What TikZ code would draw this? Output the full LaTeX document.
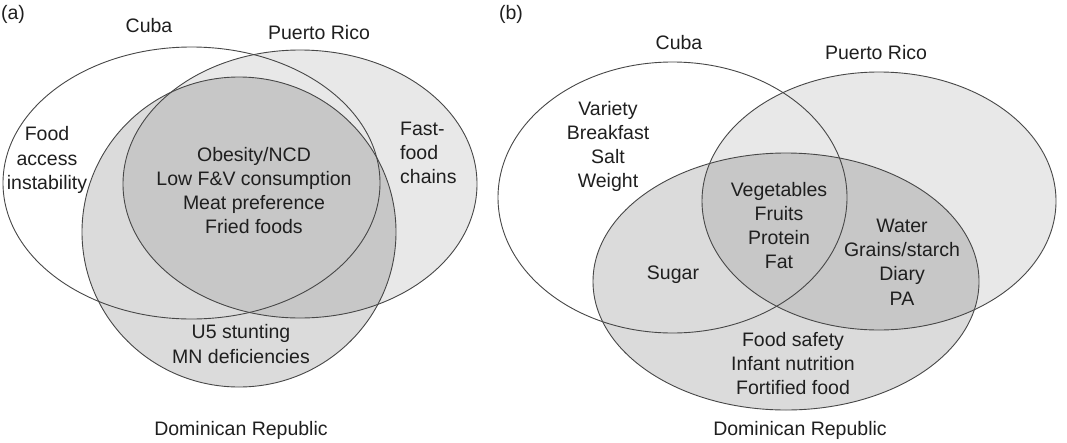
\documentclass[tikz,border=0pt]{standalone}
\usepackage{fontspec}
\setmainfont{Liberation Sans}
\begin{document}
\begin{tikzpicture}[x=1pt,y=-1pt,
  lab/.style={inner sep=0pt,align=center,font=\fontsize{19.5}{24.3}\selectfont,text=black!88},
  outline/.style={draw=black!72,line width=0.9pt},
  prfill/.style={fill=black,fill opacity=0.09},
  drfill/.style={fill=black,fill opacity=0.14}]
\useasboundingbox (0,0) rectangle (1067,442);
\fill[white] (0,0) rectangle (1067,442);
% ---------- panel (a) ----------
\fill[prfill] (300,184) ellipse [x radius=177,y radius=134];
\fill[drfill] (239,232) ellipse [x radius=157,y radius=155];
\draw[outline] (191.5,183) ellipse [x radius=188.5,y radius=136];
\draw[outline] (300,184) ellipse [x radius=177,y radius=134];
\draw[outline] (239,232) ellipse [x radius=157,y radius=155];
\node[lab] (la) at (13,14) {(a)};
\node[lab] (cubaA) at (149,26) {Cuba};
\node[lab] (prA) at (319,33) {Puerto Rico};
\node[lab] (foodA) at (47,160) {Food\\access\\instability};
\node[lab] (coreA) at (254,190.5) {Obesity/NCD\\Low F\&V consumption\\Meat preference\\Fried foods};
\node[lab,anchor=west,align=left] (fastA) at (400,153) {Fast-\\food\\chains};
\node[lab] (u5A) at (241,344) {U5 stunting\\MN deficiencies};
\node[lab] (drA) at (241,430) {Dominican Republic};
% ---------- panel (b) ----------
\fill[prfill] (879,201) ellipse [x radius=177,y radius=129];
\fill[drfill] (786,281.5) ellipse [x radius=193,y radius=128.5];
\draw[outline] (672.5,197.5) ellipse [x radius=174.5,y radius=135.5];
\draw[outline] (879,201) ellipse [x radius=177,y radius=129];
\draw[outline] (786,281.5) ellipse [x radius=193,y radius=128.5];
\node[lab] (lb) at (511,14) {(b)};
\node[lab] (cubaB) at (679,43) {Cuba};
\node[lab] (prB) at (876,53) {Puerto Rico};
\node[lab] (varB) at (608,146.5) {Variety\\Breakfast\\Salt\\Weight};
\node[lab] (coreB) at (779,225.5) {Vegetables\\Fruits\\Protein\\Fat};
\node[lab] (sugB) at (673,275) {Sugar};
\node[lab] (watB) at (902,262) {Water\\Grains/starch\\Diary\\PA};
\node[lab] (safB) at (793,363.5) {Food safety\\Infant nutrition\\Fortified food};
\node[lab] (drB) at (800,430) {Dominican Republic};
\end{tikzpicture}
\end{document}
